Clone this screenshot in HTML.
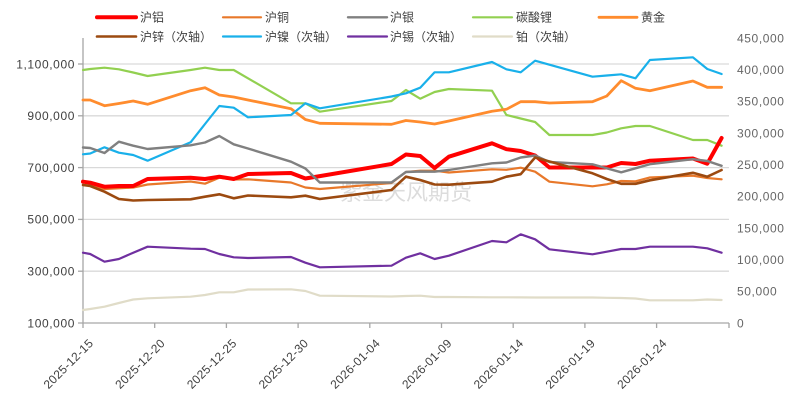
<!DOCTYPE html>
<html><head><meta charset="utf-8"><style>
html,body{margin:0;padding:0;background:#fff;}
svg{display:block;}
text{font-family:"Liberation Sans","Noto Sans CJK SC",sans-serif;}
</style></head><body>
<svg width="802" height="403" viewBox="0 0 802 403" xmlns="http://www.w3.org/2000/svg">
<rect width="802" height="403" fill="#fff"/>
<!-- gridlines -->
<g stroke="#d9d9d9" stroke-width="1.3">
<line x1="83" y1="64" x2="729" y2="64"/>
<line x1="83" y1="115.8" x2="729" y2="115.8"/>
<line x1="83" y1="167.6" x2="729" y2="167.6"/>
<line x1="83" y1="219.4" x2="729" y2="219.4"/>
<line x1="83" y1="271.2" x2="729" y2="271.2"/>
</g>
<!-- watermark -->
<text x="340" y="200" font-size="22" fill="#dcdcdc" textLength="132" style="font-family:'Noto Sans CJK SC',sans-serif">紫金天风期货</text>
<!-- axes -->
<g stroke="#a6a6a6" stroke-width="1.3">
<line x1="83" y1="38" x2="83" y2="323"/>
<line x1="78" y1="323" x2="729" y2="323"/>
<line x1="78" y1="64" x2="83" y2="64"/>
<line x1="78" y1="115.8" x2="83" y2="115.8"/>
<line x1="78" y1="167.6" x2="83" y2="167.6"/>
<line x1="78" y1="219.4" x2="83" y2="219.4"/>
<line x1="78" y1="271.2" x2="83" y2="271.2"/>
<line x1="83" y1="323" x2="83" y2="328"/>
<line x1="154.7" y1="323" x2="154.7" y2="328"/>
<line x1="226.4" y1="323" x2="226.4" y2="328"/>
<line x1="298.1" y1="323" x2="298.1" y2="328"/>
<line x1="369.8" y1="323" x2="369.8" y2="328"/>
<line x1="441.5" y1="323" x2="441.5" y2="328"/>
<line x1="513.2" y1="323" x2="513.2" y2="328"/>
<line x1="584.9" y1="323" x2="584.9" y2="328"/>
<line x1="656.6" y1="323" x2="656.6" y2="328"/>
<line x1="729" y1="323" x2="729" y2="328"/>
</g>
<!-- left labels -->
<g font-size="12" fill="#404040" text-anchor="end" letter-spacing="0.6">
<text x="75" y="68.3">1,100,000</text>
<text x="75" y="120.1">900,000</text>
<text x="75" y="171.9">700,000</text>
<text x="75" y="223.7">500,000</text>
<text x="75" y="275.5">300,000</text>
<text x="75" y="327.3">100,000</text>
</g>
<!-- right labels -->
<g font-size="12" fill="#666" letter-spacing="0.6">
<text x="737" y="42.3">450,000</text>
<text x="737" y="74">400,000</text>
<text x="737" y="105.6">350,000</text>
<text x="737" y="137.3">300,000</text>
<text x="737" y="169">250,000</text>
<text x="737" y="200.6">200,000</text>
<text x="737" y="232.3">150,000</text>
<text x="737" y="264">100,000</text>
<text x="737" y="295.6">50,000</text>
<text x="737" y="327.3">0</text>
</g>
<!-- date labels -->
<g font-size="12" fill="#404040" text-anchor="end" letter-spacing="0.3">
<text transform="translate(94,344) rotate(-45)">2025-12-15</text>
<text transform="translate(165.7,344) rotate(-45)">2025-12-20</text>
<text transform="translate(237.4,344) rotate(-45)">2025-12-25</text>
<text transform="translate(309.1,344) rotate(-45)">2025-12-30</text>
<text transform="translate(380.8,344) rotate(-45)">2026-01-04</text>
<text transform="translate(452.5,344) rotate(-45)">2026-01-09</text>
<text transform="translate(524.2,344) rotate(-45)">2026-01-14</text>
<text transform="translate(595.9,344) rotate(-45)">2026-01-19</text>
<text transform="translate(667.6,344) rotate(-45)">2026-01-24</text>
</g>
<!-- series -->
<g fill="none" stroke-linejoin="round" stroke-linecap="round">
<!-- 铂 -->
<polyline stroke="#e0dcc8" stroke-width="2.2" points="83,310 90.2,309 104.5,306.7 118.9,303 133.2,299.5 147.6,298.3 190.6,296.7 205,295 219.3,292.3 233.7,292.3 248,289.5 291,289.3 305.4,291 319.8,295.7 391.5,296.5 405.9,296 420.2,295.7 434.6,297 448.9,297 492,297.3 506.4,297.3 520.7,297.4 535.1,297.5 549.4,297.5 592.5,297.5 606.8,297.8 621.2,298 635.5,298.5 649.9,300.3 692.9,300.3 707.3,299.5 721.6,300"/>
<!-- 沪锡 -->
<polyline stroke="#7030a0" stroke-width="2.2" points="83,252.7 90.2,254 104.5,261.7 118.9,259 133.2,252.7 147.6,246.7 190.6,248.7 205,249 219.3,254 233.7,257.3 248,258 291,257 305.4,262.7 319.8,267.3 391.5,265.7 405.9,257.7 420.2,253.3 434.6,259 448.9,255.7 492,241 506.4,242.3 520.7,234.3 535.1,239.3 549.4,249.3 592.5,254.3 606.8,251.7 621.2,249 635.5,249 649.9,246.7 692.9,246.7 707.3,248.3 721.6,252.7"/>
<!-- 碳酸锂 -->
<polyline stroke="#92d050" stroke-width="2.2" points="83,70 90.2,69 104.5,67.7 118.9,69.3 133.2,72.5 147.6,76 190.6,70 205,67.7 219.3,70 233.7,70 248,78.3 291,103.3 305.4,103.3 319.8,111.7 391.5,101 405.9,90 420.2,98.7 434.6,92 448.9,89 492,90.7 506.4,115 520.7,118.5 535.1,122 549.4,135 592.5,135 606.8,132.5 621.2,128.3 635.5,126 649.9,126 692.9,140 707.3,140 721.6,145.7"/>
<!-- 黄金 -->
<polyline stroke="#ff8c2e" stroke-width="2.8" points="83,100 90.2,100 104.5,105.7 118.9,103.5 133.2,101 147.6,104.3 190.6,90.7 205,87.7 219.3,95 233.7,97 248,100 291,108.7 305.4,119.5 319.8,123.3 391.5,124.3 405.9,120.5 420.2,122 434.6,124 448.9,121 492,111.3 506.4,109.3 520.7,101.7 535.1,101.7 549.4,103 592.5,101.7 606.8,96 621.2,80.7 635.5,88.3 649.9,90.7 692.9,81 707.3,87.3 721.6,87.3"/>
<!-- 沪镍 -->
<polyline stroke="#19b0ea" stroke-width="2.2" points="83,154.3 90.2,153.5 104.5,147.3 118.9,152.7 133.2,155 147.6,160.7 190.6,142.3 205,124 219.3,106 233.7,107.7 248,117.3 291,115 305.4,103.3 319.8,108.3 391.5,96.5 405.9,93.3 420.2,87.7 434.6,72.3 448.9,72.3 492,62 506.4,69.3 520.7,72.3 535.1,60.7 549.4,64.7 592.5,76.7 606.8,75.5 621.2,74.3 635.5,78.3 649.9,60 692.9,57.3 707.3,69 721.6,74"/>
<!-- 沪铜 -->
<polyline stroke="#e8782a" stroke-width="2.2" points="83,185 90.2,185.5 104.5,189 118.9,188.3 133.2,187.5 147.6,184.5 190.6,181.5 205,183.7 219.3,177.7 233.7,179.5 248,179.3 291,182.5 305.4,187.5 319.8,189 391.5,183 405.9,172 420.2,170.7 434.6,170.7 448.9,172.5 492,169.3 506.4,169.8 520.7,167.7 535.1,171.7 549.4,181.7 592.5,186.3 606.8,184.3 621.2,181 635.5,181.3 649.9,177.5 692.9,175.7 707.3,178 721.6,179.3"/>
<!-- 沪铝 -->
<polyline stroke="#ff0000" stroke-width="4" points="83,181.7 90.2,182.7 104.5,186.7 118.9,186 133.2,186 147.6,179 190.6,177.7 205,179 219.3,176.7 233.7,179 248,174 291,173 305.4,178.5 319.8,176.1 391.5,164 405.9,154.5 420.2,156 434.6,168 448.9,156.7 492,143.3 506.4,149.2 520.7,151 535.1,155.5 549.4,167.5 592.5,167.5 606.8,167.5 621.2,163 635.5,164 649.9,160.7 692.9,158.5 707.3,163.7 721.6,138"/>
<!-- 沪银 -->
<polyline stroke="#808080" stroke-width="2.4" points="83,147.5 90.2,148 104.5,153 118.9,141.7 133.2,145.7 147.6,149 190.6,145.3 205,142.5 219.3,136 233.7,144.3 248,148.5 291,161.7 305.4,168.5 319.8,182.5 391.5,182.5 405.9,172 420.2,171.5 434.6,171.7 448.9,170 492,163.3 506.4,162.5 520.7,157.5 535.1,155.5 549.4,162 592.5,164.3 606.8,168.3 621.2,172.3 635.5,168.3 649.9,164.2 692.9,159.2 707.3,161 721.6,165.8"/>
<!-- 沪锌 -->
<polyline stroke="#9c4a10" stroke-width="2.6" points="83,185 90.2,186 104.5,191.7 118.9,199 133.2,200.5 147.6,200 190.6,199.3 205,196.7 219.3,194.3 233.7,198.3 248,195.5 291,197.3 305.4,195.7 319.8,199 391.5,190 405.9,176.7 420.2,180 434.6,184.5 448.9,184.7 492,181.7 506.4,176.7 520.7,174.2 535.1,157.5 549.4,161.5 592.5,173.3 606.8,179 621.2,183.8 635.5,183.8 649.9,180.3 692.9,172.8 707.3,176.7 721.6,170"/>
</g>
<!-- legend -->
<g stroke-linecap="round">
<line x1="97" y1="17.3" x2="136" y2="17.3" stroke="#ff0000" stroke-width="4"/>
<line x1="223" y1="17.3" x2="261" y2="17.3" stroke="#e8782a" stroke-width="2.2"/>
<line x1="348" y1="17.3" x2="387" y2="17.3" stroke="#808080" stroke-width="2.4"/>
<line x1="473" y1="17.3" x2="512" y2="17.3" stroke="#92d050" stroke-width="2.2"/>
<line x1="599" y1="17.3" x2="637" y2="17.3" stroke="#ff8c2e" stroke-width="2.8"/>
<line x1="97" y1="36.5" x2="136" y2="36.5" stroke="#9c4a10" stroke-width="2.6"/>
<line x1="223" y1="36.5" x2="261" y2="36.5" stroke="#19b0ea" stroke-width="2.2"/>
<line x1="348" y1="36.5" x2="387" y2="36.5" stroke="#7030a0" stroke-width="2.2"/>
<line x1="473" y1="36.5" x2="512" y2="36.5" stroke="#e0dcc8" stroke-width="2.2"/>
</g>
<g font-size="12" fill="#404040">
<text x="140" y="21.6">沪铝</text>
<text x="265" y="21.6">沪铜</text>
<text x="390" y="21.6">沪银</text>
<text x="516" y="21.6">碳酸锂</text>
<text x="641" y="21.6">黄金</text>
<text x="140" y="40.8">沪锌（次轴）</text>
<text x="265" y="40.8">沪镍（次轴）</text>
<text x="390" y="40.8">沪锡（次轴）</text>
<text x="516" y="40.8">铂（次轴）</text>
</g>
</svg>
</body></html>
